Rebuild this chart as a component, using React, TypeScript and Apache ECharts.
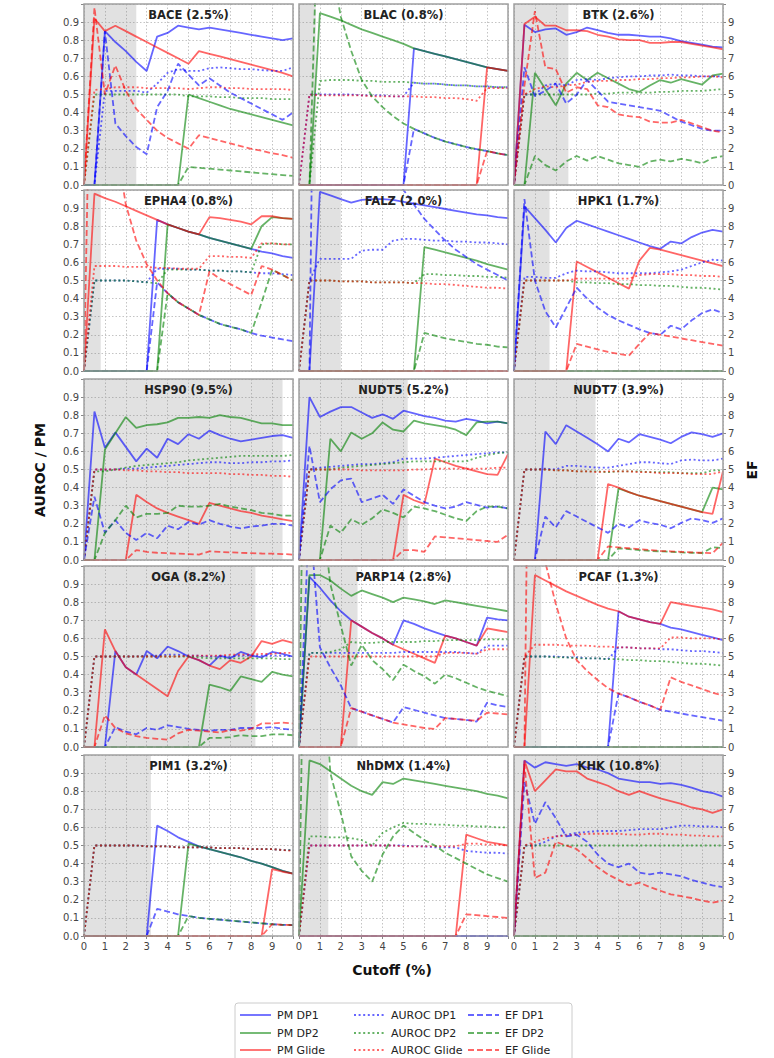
import React, { useEffect, useRef } from "react";
import * as echarts from "echarts";

// ---------------- data ----------------
const CUTOFFS = [0, 0.5, 1, 1.5, 2, 2.5, 3, 3.5, 4, 4.5, 5, 5.5, 6, 6.5, 7, 7.5, 8, 8.5, 9, 9.5, 10];
const TARGETS = ["BACE", "BLAC", "BTK", "EPHA4", "FALZ", "HPK1", "HSP90", "NUDT5", "NUDT7", "OGA", "PARP14", "PCAF", "PIM1", "NhDMX", "KHK"];
const ACTIVE_RATIO = [2.5, 0.8, 2.6, 0.8, 2.0, 1.7, 9.5, 5.2, 3.9, 8.2, 2.8, 1.3, 3.2, 1.4, 10.8];
const METHODS = ["DP1", "DP2", "Glide"];

// each: [DP1, DP2, Glide]
const BACE_PM = [
  [0, 0, 0.85, 0.79, 0.74, 0.68, 0.63, 0.82, 0.84, 0.88, 0.87, 0.86, 0.87, 0.86, 0.85, 0.84, 0.83, 0.82, 0.81, 0.80, 0.81],
  [0, 0, 0, 0, 0, 0, 0, 0, 0, 0, 0.50, 0.48, 0.46, 0.44, 0.42, 0.405, 0.39, 0.375, 0.36, 0.345, 0.33],
  [0, 0.92, 0.85, 0.88, 0.85, 0.82, 0.79, 0.76, 0.73, 0.70, 0.67, 0.74, 0.725, 0.71, 0.695, 0.68, 0.665, 0.65, 0.635, 0.62, 0.60],
];
const BACE_AUROC = [
  [0, 0, 0.52, 0.52, 0.52, 0.52, 0.51, 0.56, 0.62, 0.64, 0.63, 0.63, 0.645, 0.65, 0.645, 0.64, 0.64, 0.635, 0.63, 0.63, 0.65],
  [0, 0.5, 0.5, 0.5, 0.5, 0.5, 0.5, 0.5, 0.5, 0.5, 0.49, 0.49, 0.49, 0.485, 0.485, 0.48, 0.48, 0.48, 0.475, 0.475, 0.475],
  [0, 0.525, 0.53, 0.54, 0.54, 0.54, 0.535, 0.535, 0.535, 0.535, 0.53, 0.535, 0.54, 0.54, 0.535, 0.535, 0.53, 0.53, 0.53, 0.53, 0.525],
];
const BACE_EF = [
  [0, 0, 8.5, 3.4, 2.7, 2.1, 1.7, 4.3, 5.2, 6.7, 6.1, 5.5, 5.9, 5.5, 5.1, 4.8, 4.5, 4.2, 3.9, 3.6, 4.0],
  [0, 0, 0, 0, 0, 0, 0, 0, 0, 0, 1.0, 0.95, 0.9, 0.85, 0.8, 0.75, 0.7, 0.65, 0.6, 0.55, 0.5],
  [0, 9.8, 5.0, 6.6, 5.2, 4.2, 3.6, 3.0, 2.6, 2.3, 2.0, 2.75, 2.6, 2.45, 2.3, 2.15, 2.0, 1.9, 1.75, 1.65, 1.5],
];

const BLAC_PM = [
  [0, 0, 0, 0, 0, 0, 0, 0, 0, 0, 0, 0.755, 0.74, 0.725, 0.71, 0.695, 0.68, 0.665, 0.65, 0.64, 0.63],
  [0, 0, 0.95, 0.93, 0.91, 0.885, 0.86, 0.84, 0.82, 0.80, 0.78, 0.755, 0.74, 0.725, 0.71, 0.695, 0.68, 0.665, 0.65, 0.64, 0.63],
  [0, 0, 0, 0, 0, 0, 0, 0, 0, 0, 0, 0, 0, 0, 0, 0, 0, 0, 0.65, 0.64, 0.63],
];
const BLAC_AUROC = [
  [0, 0.5, 0.5, 0.5, 0.5, 0.5, 0.495, 0.495, 0.495, 0.49, 0.49, 0.565, 0.56, 0.56, 0.555, 0.55, 0.55, 0.545, 0.545, 0.54, 0.54],
  [0, 0, 0.575, 0.58, 0.58, 0.58, 0.575, 0.575, 0.57, 0.57, 0.57, 0.565, 0.56, 0.56, 0.555, 0.55, 0.55, 0.545, 0.545, 0.54, 0.54],
  [0, 0.5, 0.495, 0.495, 0.495, 0.495, 0.495, 0.49, 0.49, 0.49, 0.49, 0.49, 0.485, 0.485, 0.48, 0.48, 0.475, 0.465, 0.535, 0.535, 0.535],
];
const BLAC_EF = [
  [0, 0, 0, 0, 0, 0, 0, 0, 0, 0, 0, 3.1, 2.85, 2.6, 2.4, 2.25, 2.1, 1.98, 1.87, 1.75, 1.65],
  [0, 0, 19, 12.5, 9.3, 7.4, 5.8, 4.9, 4.3, 3.8, 3.4, 3.1, 2.85, 2.6, 2.4, 2.25, 2.1, 1.98, 1.87, 1.75, 1.65],
  [0, 0, 0, 0, 0, 0, 0, 0, 0, 0, 0, 0, 0, 0, 0, 0, 0, 0, 1.87, 1.75, 1.65],
];

const BTK_PM = [
  [0, 0.885, 0.845, 0.86, 0.865, 0.83, 0.845, 0.87, 0.855, 0.84, 0.83, 0.83, 0.825, 0.82, 0.82, 0.81, 0.795, 0.785, 0.775, 0.765, 0.76],
  [0, 0, 0.62, 0.53, 0.44, 0.56, 0.62, 0.58, 0.62, 0.59, 0.56, 0.53, 0.515, 0.55, 0.58, 0.565, 0.585, 0.57, 0.555, 0.605, 0.615],
  [0, 0.89, 0.93, 0.88, 0.88, 0.855, 0.855, 0.85, 0.83, 0.82, 0.805, 0.80, 0.80, 0.785, 0.785, 0.79, 0.79, 0.78, 0.77, 0.76, 0.75],
];
const BTK_AUROC = [
  [0, 0.5, 0.5, 0.55, 0.56, 0.55, 0.58, 0.585, 0.58, 0.59, 0.595, 0.60, 0.60, 0.605, 0.605, 0.61, 0.605, 0.605, 0.60, 0.60, 0.60],
  [0, 0.5, 0.5, 0.5, 0.5, 0.5, 0.5, 0.5, 0.505, 0.505, 0.51, 0.51, 0.51, 0.51, 0.515, 0.515, 0.52, 0.52, 0.52, 0.525, 0.53],
  [0, 0.5, 0.53, 0.545, 0.54, 0.55, 0.555, 0.57, 0.575, 0.575, 0.58, 0.58, 0.585, 0.585, 0.59, 0.59, 0.595, 0.595, 0.60, 0.60, 0.595],
];
const BTK_EF = [
  [0, 6.5, 4.9, 5.2, 5.6, 4.5, 5.0, 5.8, 5.2, 4.6, 4.5, 4.4, 4.3, 4.2, 4.1, 3.8, 3.5, 3.3, 3.1, 3.0, 3.0],
  [0, 0, 1.6, 1.1, 0.8, 1.3, 1.6, 1.35, 1.6, 1.4, 1.2, 1.1, 1.0, 1.3, 1.4, 1.3, 1.45, 1.35, 1.2, 1.5, 1.6],
  [0, 5.5, 9.6, 6.5, 6.4, 5.1, 5.4, 5.3, 4.4, 4.3, 3.9, 3.8, 3.75, 3.5, 3.45, 3.45, 3.6, 3.4, 3.2, 3.0, 2.9],
];

const EPHA4_PM = [
  [0, 0, 0, 0, 0, 0, 0, 0.835, 0.81, 0.79, 0.77, 0.755, 0.735, 0.72, 0.705, 0.69, 0.675, 0.66, 0.65, 0.635, 0.625],
  [0, 0, 0, 0, 0, 0, 0, 0, 0.81, 0.79, 0.77, 0.755, 0.735, 0.72, 0.705, 0.69, 0.675, 0.80, 0.85, 0.845, 0.84],
  [0, 0.98, 0.955, 0.935, 0.91, 0.885, 0.86, 0.835, 0.81, 0.79, 0.77, 0.755, 0.85, 0.845, 0.835, 0.825, 0.81, 0.855, 0.855, 0.845, 0.84],
];
const EPHA4_AUROC = [
  [0, 0.5, 0.5, 0.5, 0.5, 0.495, 0.49, 0.565, 0.565, 0.565, 0.56, 0.56, 0.555, 0.555, 0.55, 0.55, 0.545, 0.54, 0.54, 0.535, 0.53],
  [0, 0.5, 0.5, 0.5, 0.5, 0.495, 0.49, 0.485, 0.56, 0.56, 0.56, 0.56, 0.555, 0.555, 0.55, 0.55, 0.545, 0.70, 0.705, 0.70, 0.70],
  [0, 0.58, 0.58, 0.58, 0.575, 0.575, 0.575, 0.57, 0.57, 0.565, 0.565, 0.565, 0.635, 0.635, 0.63, 0.63, 0.625, 0.705, 0.705, 0.70, 0.70],
];
const EPHA4_EF = [
  [0, 0, 0, 0, 0, 0, 0, 4.9, 4.3, 3.8, 3.45, 3.1, 2.85, 2.6, 2.45, 2.3, 2.1, 1.95, 1.85, 1.75, 1.65],
  [0, 0, 0, 0, 0, 0, 0, 0, 4.3, 3.8, 3.45, 3.1, 2.85, 2.6, 2.45, 2.3, 2.1, 3.8, 5.6, 5.3, 5.0],
  [0, 30, 19, 12.8, 9.2, 7.2, 5.9, 5.0, 4.3, 3.8, 3.45, 3.1, 5.5, 5.1, 4.8, 4.5, 4.2, 5.8, 5.6, 5.3, 5.0],
];

const FALZ_PM = [
  [0, 0, 0.99, 0.97, 0.95, 0.93, 0.945, 0.95, 0.95, 0.945, 0.935, 0.925, 0.915, 0.905, 0.895, 0.885, 0.875, 0.865, 0.86, 0.85, 0.845],
  [0, 0, 0, 0, 0, 0, 0, 0, 0, 0, 0, 0, 0.685, 0.67, 0.655, 0.64, 0.625, 0.61, 0.59, 0.575, 0.56],
  [0, 0, 0, 0, 0, 0, 0, 0, 0, 0, 0, 0, 0, 0, 0, 0, 0, 0, 0, 0, 0],
];
const FALZ_AUROC = [
  [0, 0.5, 0.62, 0.62, 0.62, 0.62, 0.665, 0.67, 0.67, 0.72, 0.73, 0.73, 0.725, 0.72, 0.72, 0.715, 0.715, 0.71, 0.71, 0.705, 0.70],
  [0, 0.5, 0.5, 0.5, 0.495, 0.495, 0.495, 0.49, 0.49, 0.49, 0.49, 0.485, 0.535, 0.535, 0.53, 0.53, 0.525, 0.525, 0.52, 0.52, 0.515],
  [0, 0.5, 0.5, 0.5, 0.495, 0.495, 0.495, 0.49, 0.49, 0.49, 0.49, 0.485, 0.485, 0.48, 0.48, 0.475, 0.47, 0.465, 0.46, 0.46, 0.455],
];
const FALZ_EF = [
  [0, 0, 49, 33, 25, 20, 16.5, 14, 12.4, 11, 10, 9.2, 8.4, 7.8, 7.2, 6.7, 6.3, 5.9, 5.6, 5.3, 5.0],
  [0, 0, 0, 0, 0, 0, 0, 0, 0, 0, 0, 0, 2.1, 1.95, 1.8, 1.7, 1.6, 1.5, 1.45, 1.35, 1.3],
  [0, 0, 0, 0, 0, 0, 0, 0, 0, 0, 0, 0, 0, 0, 0, 0, 0, 0, 0, 0, 0],
];

const HPK1_PM = [
  [0, 0.91, 0.845, 0.78, 0.71, 0.79, 0.83, 0.81, 0.79, 0.77, 0.75, 0.73, 0.71, 0.69, 0.675, 0.715, 0.705, 0.74, 0.765, 0.78, 0.77],
  [0, 0, 0, 0, 0, 0, 0, 0, 0, 0, 0, 0, 0, 0, 0, 0, 0, 0, 0, 0, 0],
  [0, 0, 0, 0, 0, 0, 0.605, 0.575, 0.545, 0.515, 0.485, 0.455, 0.61, 0.68, 0.67, 0.655, 0.64, 0.625, 0.61, 0.595, 0.58],
];
const HPK1_AUROC = [
  [0, 0.52, 0.52, 0.515, 0.515, 0.54, 0.555, 0.55, 0.55, 0.545, 0.54, 0.54, 0.54, 0.54, 0.545, 0.55, 0.56, 0.58, 0.60, 0.615, 0.61],
  [0, 0.5, 0.5, 0.5, 0.5, 0.5, 0.49, 0.49, 0.485, 0.485, 0.48, 0.48, 0.475, 0.475, 0.47, 0.47, 0.465, 0.46, 0.46, 0.455, 0.45],
  [0, 0.5, 0.5, 0.5, 0.5, 0.5, 0.51, 0.51, 0.51, 0.51, 0.51, 0.51, 0.53, 0.535, 0.535, 0.535, 0.53, 0.53, 0.525, 0.525, 0.52],
];
const HPK1_EF = [
  [0, 9.5, 5.0, 3.3, 2.4, 3.5, 4.6, 4.0, 3.5, 3.1, 2.8, 2.55, 2.3, 2.1, 2.0, 2.5, 2.3, 2.8, 3.2, 3.4, 3.2],
  [0, 0, 0, 0, 0, 0, 0, 0, 0, 0, 0, 0, 0, 0, 0, 0, 0, 0, 0, 0, 0],
  [0, 0, 0, 0, 0, 0, 1.5, 1.35, 1.2, 1.05, 0.95, 0.85, 1.5, 2.1, 2.0, 1.9, 1.8, 1.7, 1.6, 1.5, 1.4],
];

const HSP90_PM = [
  [0, 0.82, 0.62, 0.705, 0.625, 0.545, 0.615, 0.565, 0.67, 0.64, 0.695, 0.67, 0.715, 0.69, 0.67, 0.655, 0.665, 0.675, 0.685, 0.69, 0.675],
  [0, 0, 0.61, 0.70, 0.79, 0.73, 0.745, 0.75, 0.76, 0.785, 0.785, 0.79, 0.785, 0.80, 0.79, 0.785, 0.77, 0.755, 0.755, 0.745, 0.745],
  [0, 0, 0, 0, 0, 0.36, 0.32, 0.285, 0.26, 0.24, 0.22, 0.20, 0.315, 0.30, 0.285, 0.27, 0.26, 0.245, 0.235, 0.225, 0.215],
];
const HSP90_AUROC = [
  [0, 0.5, 0.5, 0.5, 0.505, 0.505, 0.51, 0.515, 0.52, 0.525, 0.53, 0.535, 0.54, 0.54, 0.535, 0.535, 0.54, 0.54, 0.545, 0.545, 0.55],
  [0, 0.49, 0.49, 0.5, 0.51, 0.52, 0.525, 0.53, 0.535, 0.54, 0.55, 0.555, 0.56, 0.565, 0.57, 0.575, 0.575, 0.575, 0.575, 0.575, 0.58],
  [0, 0.5, 0.5, 0.5, 0.495, 0.495, 0.49, 0.49, 0.485, 0.485, 0.48, 0.48, 0.48, 0.48, 0.475, 0.475, 0.47, 0.47, 0.465, 0.465, 0.46],
];
const HSP90_EF = [
  [0, 3.5, 1.5, 2.2, 1.5, 1.1, 1.5, 1.2, 1.9, 1.7, 2.1, 1.95, 2.2, 2.0, 1.85, 1.75, 1.85, 1.9, 2.0, 2.0, 1.9],
  [0, 0, 1.5, 2.2, 3.0, 2.35, 2.55, 2.55, 2.6, 3.0, 2.95, 2.95, 3.0, 3.1, 2.95, 2.85, 2.75, 2.6, 2.55, 2.45, 2.45],
  [0, 0, 0, 0, 0, 0.55, 0.45, 0.4, 0.38, 0.35, 0.33, 0.3, 0.48, 0.45, 0.42, 0.4, 0.38, 0.36, 0.35, 0.33, 0.3],
];

const NUDT5_PM = [
  [0, 0.90, 0.79, 0.82, 0.845, 0.845, 0.815, 0.785, 0.805, 0.78, 0.825, 0.81, 0.795, 0.785, 0.77, 0.765, 0.78, 0.77, 0.755, 0.765, 0.755],
  [0, 0, 0, 0.67, 0.60, 0.705, 0.67, 0.70, 0.76, 0.72, 0.71, 0.77, 0.755, 0.745, 0.735, 0.72, 0.69, 0.76, 0.765, 0.765, 0.755],
  [0, 0, 0, 0, 0, 0, 0, 0, 0, 0, 0.36, 0.33, 0.31, 0.56, 0.54, 0.52, 0.505, 0.49, 0.475, 0.47, 0.585],
];
const NUDT5_AUROC = [
  [0, 0.5, 0.51, 0.515, 0.52, 0.525, 0.53, 0.53, 0.535, 0.54, 0.56, 0.56, 0.56, 0.565, 0.57, 0.575, 0.58, 0.585, 0.59, 0.595, 0.595],
  [0, 0.5, 0.5, 0.5, 0.51, 0.515, 0.52, 0.525, 0.53, 0.535, 0.54, 0.545, 0.545, 0.545, 0.545, 0.545, 0.545, 0.565, 0.58, 0.59, 0.595],
  [0, 0.5, 0.5, 0.5, 0.5, 0.5, 0.495, 0.495, 0.495, 0.495, 0.495, 0.5, 0.5, 0.505, 0.505, 0.505, 0.505, 0.505, 0.505, 0.51, 0.51],
];
const NUDT5_EF = [
  [0, 6.3, 3.2, 3.9, 4.4, 4.5, 3.2, 3.4, 3.6, 3.1, 3.9, 3.55, 3.2, 3.0, 2.85, 2.95, 3.2, 3.05, 2.9, 2.95, 2.85],
  [0, 0, 0, 1.9, 1.5, 2.25, 1.95, 2.3, 2.8, 2.6, 2.35, 2.95, 2.85, 2.7, 2.5, 2.3, 2.15, 2.7, 2.95, 2.95, 2.85],
  [0, 0, 0, 0, 0, 0, 0, 0, 0, 0, 0.55, 0.55, 0.45, 1.3, 1.25, 1.2, 1.15, 1.1, 1.05, 1.0, 1.4],
];

const NUDT7_PM = [
  [0, 0, 0, 0.71, 0.64, 0.745, 0.71, 0.675, 0.64, 0.60, 0.67, 0.65, 0.695, 0.68, 0.665, 0.645, 0.68, 0.705, 0.695, 0.68, 0.70],
  [0, 0, 0, 0, 0, 0, 0, 0, 0, 0, 0.395, 0.375, 0.355, 0.34, 0.325, 0.31, 0.295, 0.28, 0.265, 0.40, 0.39],
  [0, 0, 0, 0, 0, 0, 0, 0, 0, 0.42, 0.40, 0.375, 0.355, 0.34, 0.325, 0.31, 0.295, 0.28, 0.265, 0.255, 0.49],
];
const NUDT7_AUROC = [
  [0, 0.5, 0.5, 0.505, 0.50, 0.52, 0.52, 0.515, 0.51, 0.51, 0.52, 0.53, 0.54, 0.54, 0.535, 0.53, 0.55, 0.555, 0.55, 0.55, 0.56],
  [0, 0.5, 0.5, 0.5, 0.495, 0.495, 0.49, 0.49, 0.49, 0.485, 0.49, 0.49, 0.49, 0.485, 0.485, 0.485, 0.48, 0.48, 0.48, 0.495, 0.495],
  [0, 0.5, 0.5, 0.5, 0.495, 0.495, 0.49, 0.49, 0.485, 0.49, 0.49, 0.49, 0.485, 0.485, 0.48, 0.48, 0.48, 0.475, 0.475, 0.475, 0.49],
];
const NUDT7_EF = [
  [0, 0, 0, 2.4, 1.8, 2.7, 2.4, 2.1, 1.8, 1.5, 2.0, 1.8, 2.2, 2.05, 1.95, 1.75, 2.05, 2.3, 2.2, 2.05, 2.3],
  [0, 0, 0, 0, 0, 0, 0, 0, 0, 0, 0.65, 0.6, 0.55, 0.5, 0.48, 0.45, 0.42, 0.4, 0.38, 0.7, 0.65],
  [0, 0, 0, 0, 0, 0, 0, 0, 0, 0.75, 0.7, 0.65, 0.6, 0.55, 0.5, 0.48, 0.45, 0.42, 0.4, 0.38, 0.95],
];

const OGA_PM = [
  [0, 0, 0, 0.53, 0.44, 0.40, 0.53, 0.49, 0.555, 0.53, 0.50, 0.48, 0.45, 0.505, 0.49, 0.525, 0.505, 0.495, 0.525, 0.515, 0.50],
  [0, 0, 0, 0, 0, 0, 0, 0, 0, 0, 0, 0, 0.345, 0.33, 0.31, 0.39, 0.375, 0.36, 0.415, 0.40, 0.39],
  [0, 0, 0.65, 0.53, 0.44, 0.40, 0.36, 0.32, 0.28, 0.42, 0.50, 0.48, 0.45, 0.43, 0.48, 0.465, 0.50, 0.585, 0.57, 0.59, 0.575],
];
const OGA_AUROC = [
  [0, 0.5, 0.5, 0.5, 0.5, 0.5, 0.505, 0.505, 0.51, 0.51, 0.505, 0.505, 0.5, 0.5, 0.5, 0.505, 0.505, 0.505, 0.505, 0.505, 0.5],
  [0, 0.5, 0.5, 0.5, 0.5, 0.5, 0.5, 0.5, 0.5, 0.5, 0.5, 0.495, 0.49, 0.49, 0.49, 0.49, 0.49, 0.49, 0.49, 0.485, 0.485],
  [0, 0.5, 0.5, 0.5, 0.5, 0.5, 0.5, 0.5, 0.5, 0.5, 0.505, 0.505, 0.505, 0.505, 0.51, 0.51, 0.51, 0.515, 0.515, 0.52, 0.52],
];
const OGA_EF = [
  [0, 0, 0, 1.1, 0.85, 0.7, 1.05, 0.95, 1.2, 1.1, 1.0, 0.95, 0.9, 0.95, 0.95, 1.05, 1.05, 1.05, 1.1, 1.0, 0.95],
  [0, 0, 0, 0, 0, 0, 0, 0, 0, 0, 0, 0, 0.5, 0.5, 0.55, 0.65, 0.6, 0.6, 0.7, 0.7, 0.65],
  [0, 0, 1.75, 1.05, 0.75, 0.6, 0.5, 0.45, 0.4, 0.75, 0.95, 0.9, 0.85, 0.8, 0.95, 0.9, 1.0, 1.3, 1.3, 1.35, 1.3],
];

const PARP14_PM = [
  [0, 0.94, 0.88, 0.81, 0.75, 0.70, 0.665, 0.63, 0.60, 0.565, 0.70, 0.68, 0.655, 0.635, 0.615, 0.60, 0.58, 0.56, 0.715, 0.705, 0.70],
  [0, 0.95, 0.95, 0.92, 0.875, 0.835, 0.865, 0.845, 0.825, 0.80, 0.825, 0.815, 0.805, 0.79, 0.81, 0.80, 0.79, 0.78, 0.77, 0.76, 0.75],
  [0, 0, 0, 0, 0, 0.70, 0.665, 0.63, 0.60, 0.565, 0.54, 0.515, 0.49, 0.465, 0.615, 0.60, 0.58, 0.56, 0.655, 0.645, 0.635],
];
const PARP14_AUROC = [
  [0, 0.52, 0.52, 0.52, 0.52, 0.52, 0.52, 0.52, 0.52, 0.52, 0.525, 0.525, 0.525, 0.525, 0.525, 0.525, 0.52, 0.515, 0.56, 0.56, 0.56],
  [0, 0.52, 0.52, 0.525, 0.54, 0.58, 0.575, 0.575, 0.58, 0.58, 0.58, 0.58, 0.585, 0.585, 0.59, 0.59, 0.59, 0.59, 0.595, 0.595, 0.595],
  [0, 0.5, 0.5, 0.5, 0.5, 0.5, 0.5, 0.5, 0.5, 0.5, 0.5, 0.5, 0.5, 0.5, 0.52, 0.52, 0.52, 0.515, 0.54, 0.54, 0.54],
];
const PARP14_EF = [
  [0, 13, 5.5, 4.4, 3.4, 2.15, 1.95, 1.75, 1.55, 1.35, 2.2, 2.05, 1.9, 1.75, 1.6, 1.55, 1.5, 1.4, 2.45, 2.3, 2.2],
  [0, 40, 14, 9.0, 6.7, 4.5, 5.65, 4.8, 4.3, 3.7, 4.55, 4.2, 3.9, 3.5, 4.0, 3.8, 3.55, 3.3, 3.1, 2.95, 2.8],
  [0, 0, 0, 0, 0, 2.15, 1.95, 1.75, 1.55, 1.35, 1.25, 1.15, 1.05, 1.0, 1.6, 1.55, 1.5, 1.45, 1.9, 1.85, 1.8],
];

const PCAF_PM = [
  [0, 0, 0, 0, 0, 0, 0, 0, 0, 0, 0.75, 0.72, 0.705, 0.69, 0.68, 0.66, 0.65, 0.635, 0.62, 0.605, 0.59],
  [0, 0, 0, 0, 0, 0, 0, 0, 0, 0, 0, 0, 0, 0, 0, 0, 0, 0, 0, 0, 0],
  [0, 0, 0.95, 0.92, 0.89, 0.86, 0.835, 0.81, 0.785, 0.765, 0.75, 0.72, 0.705, 0.69, 0.68, 0.80, 0.79, 0.78, 0.77, 0.76, 0.745],
];
const PCAF_AUROC = [
  [0, 0.5, 0.5, 0.5, 0.5, 0.495, 0.495, 0.49, 0.49, 0.485, 0.55, 0.55, 0.545, 0.545, 0.54, 0.54, 0.535, 0.53, 0.53, 0.525, 0.52],
  [0, 0.5, 0.5, 0.5, 0.495, 0.495, 0.49, 0.49, 0.49, 0.485, 0.485, 0.48, 0.48, 0.475, 0.475, 0.47, 0.465, 0.46, 0.46, 0.455, 0.45],
  [0, 0.5, 0.565, 0.565, 0.565, 0.56, 0.56, 0.56, 0.555, 0.555, 0.55, 0.55, 0.545, 0.545, 0.545, 0.605, 0.605, 0.60, 0.60, 0.60, 0.595],
];
const PCAF_EF = [
  [0, 0, 0, 0, 0, 0, 0, 0, 0, 0, 2.95, 2.75, 2.5, 2.3, 2.05, 1.95, 1.85, 1.75, 1.65, 1.55, 1.45],
  [0, 0, 0, 0, 0, 0, 0, 0, 0, 0, 0, 0, 0, 0, 0, 0, 0, 0, 0, 0, 0],
  [0, 0, 50, 10.2, 7.9, 6.0, 4.8, 4.2, 3.7, 3.25, 2.95, 2.75, 2.5, 2.3, 2.05, 3.85, 3.6, 3.4, 3.2, 3.0, 2.85],
];

const PIM1_PM = [
  [0, 0, 0, 0, 0, 0, 0, 0.61, 0.58, 0.545, 0.52, 0.495, 0.48, 0.465, 0.45, 0.435, 0.415, 0.40, 0.38, 0.36, 0.345],
  [0, 0, 0, 0, 0, 0, 0, 0, 0, 0, 0.51, 0.495, 0.48, 0.465, 0.45, 0.435, 0.415, 0.40, 0.38, 0.36, 0.345],
  [0, 0, 0, 0, 0, 0, 0, 0, 0, 0, 0, 0, 0, 0, 0, 0, 0, 0, 0.37, 0.355, 0.345],
];
const PIM1_AUROC = [
  [0, 0.5, 0.5, 0.5, 0.5, 0.5, 0.495, 0.495, 0.495, 0.49, 0.49, 0.49, 0.49, 0.485, 0.485, 0.485, 0.48, 0.48, 0.48, 0.475, 0.475],
  [0, 0.5, 0.5, 0.5, 0.5, 0.5, 0.495, 0.495, 0.495, 0.49, 0.49, 0.49, 0.49, 0.485, 0.485, 0.485, 0.48, 0.48, 0.48, 0.475, 0.475],
  [0, 0.5, 0.5, 0.5, 0.5, 0.5, 0.495, 0.495, 0.495, 0.49, 0.49, 0.49, 0.49, 0.485, 0.485, 0.485, 0.48, 0.48, 0.48, 0.475, 0.47],
];
const PIM1_EF = [
  [0, 0, 0, 0, 0, 0, 0, 1.5, 1.35, 1.2, 1.1, 1.0, 0.95, 0.9, 0.85, 0.8, 0.75, 0.7, 0.65, 0.62, 0.6],
  [0, 0, 0, 0, 0, 0, 0, 0, 0, 0, 1.1, 1.0, 0.95, 0.9, 0.85, 0.8, 0.75, 0.7, 0.65, 0.62, 0.6],
  [0, 0, 0, 0, 0, 0, 0, 0, 0, 0, 0, 0, 0, 0, 0, 0, 0, 0, 0.65, 0.62, 0.6],
];

const NHDMX_PM = [
  [0, 0, 0, 0, 0, 0, 0, 0, 0, 0, 0, 0, 0, 0, 0, 0, 0, 0, 0, 0, 0],
  [0, 0.97, 0.95, 0.91, 0.87, 0.83, 0.80, 0.78, 0.85, 0.84, 0.87, 0.86, 0.85, 0.84, 0.83, 0.82, 0.81, 0.80, 0.785, 0.775, 0.76],
  [0, 0, 0, 0, 0, 0, 0, 0, 0, 0, 0, 0, 0, 0, 0, 0, 0.56, 0.54, 0.52, 0.51, 0.50],
];
const NHDMX_AUROC = [
  [0, 0.5, 0.5, 0.5, 0.5, 0.5, 0.5, 0.5, 0.5, 0.5, 0.5, 0.495, 0.495, 0.49, 0.49, 0.49, 0.47, 0.465, 0.46, 0.46, 0.455],
  [0, 0.55, 0.55, 0.545, 0.545, 0.54, 0.53, 0.50, 0.57, 0.60, 0.625, 0.62, 0.62, 0.615, 0.615, 0.61, 0.61, 0.605, 0.605, 0.60, 0.60],
  [0, 0.5, 0.5, 0.5, 0.5, 0.5, 0.5, 0.5, 0.5, 0.5, 0.495, 0.495, 0.495, 0.495, 0.495, 0.495, 0.51, 0.51, 0.505, 0.505, 0.50],
];
const NHDMX_EF = [
  [0, 0, 0, 0, 0, 0, 0, 0, 0, 0, 0, 0, 0, 0, 0, 0, 0, 0, 0, 0, 0],
  [0, 40, 18, 9.0, 6.8, 4.4, 3.6, 3.0, 4.5, 5.5, 6.1, 5.7, 5.3, 5.0, 4.6, 4.3, 4.0, 3.7, 3.4, 3.2, 3.0],
  [0, 0, 0, 0, 0, 0, 0, 0, 0, 0, 0, 0, 0, 0, 0, 0, 1.2, 1.15, 1.1, 1.05, 1.0],
];

const KHK_PM = [
  [0, 0.97, 0.93, 0.96, 0.95, 0.94, 0.95, 0.93, 0.92, 0.90, 0.87, 0.86, 0.85, 0.85, 0.84, 0.845, 0.835, 0.82, 0.80, 0.79, 0.77],
  [0, 0, 0, 0, 0, 0, 0, 0, 0, 0, 0, 0, 0, 0, 0, 0, 0, 0, 0, 0, 0],
  [0, 0.97, 0.80, 0.86, 0.92, 0.91, 0.91, 0.87, 0.85, 0.83, 0.80, 0.78, 0.80, 0.78, 0.76, 0.745, 0.73, 0.71, 0.70, 0.68, 0.70],
];
const KHK_AUROC = [
  [0, 0.5, 0.5, 0.52, 0.55, 0.56, 0.57, 0.575, 0.58, 0.58, 0.58, 0.585, 0.59, 0.59, 0.59, 0.60, 0.61, 0.61, 0.605, 0.605, 0.60],
  [0, 0.5, 0.5, 0.5, 0.5, 0.5, 0.5, 0.5, 0.5, 0.5, 0.5, 0.5, 0.5, 0.5, 0.5, 0.5, 0.5, 0.5, 0.5, 0.5, 0.5],
  [0, 0.5, 0.52, 0.54, 0.55, 0.555, 0.56, 0.565, 0.565, 0.565, 0.565, 0.56, 0.56, 0.565, 0.565, 0.56, 0.56, 0.555, 0.555, 0.55, 0.55],
];
const KHK_EF = [
  [0, 8.5, 6.2, 7.4, 6.5, 5.5, 5.6, 5.2, 4.5, 4.0, 3.8, 4.0, 3.5, 3.4, 3.5, 3.4, 3.3, 3.1, 2.95, 2.8, 2.7],
  [0, 0, 0, 0, 0, 0, 0, 0, 0, 0, 0, 0, 0, 0, 0, 0, 0, 0, 0, 0, 0],
  [0, 9.5, 3.2, 3.5, 5.2, 5.0, 4.8, 4.3, 3.8, 3.4, 3.1, 2.8, 2.95, 2.7, 2.5, 2.3, 2.2, 2.1, 1.95, 1.85, 1.95],
];

const PM_DATA = [BACE_PM, BLAC_PM, BTK_PM, EPHA4_PM, FALZ_PM, HPK1_PM, HSP90_PM, NUDT5_PM, NUDT7_PM, OGA_PM, PARP14_PM, PCAF_PM, PIM1_PM, NHDMX_PM, KHK_PM];
const AUROC_DATA = [BACE_AUROC, BLAC_AUROC, BTK_AUROC, EPHA4_AUROC, FALZ_AUROC, HPK1_AUROC, HSP90_AUROC, NUDT5_AUROC, NUDT7_AUROC, OGA_AUROC, PARP14_AUROC, PCAF_AUROC, PIM1_AUROC, NHDMX_AUROC, KHK_AUROC];
const EF_DATA = [BACE_EF, BLAC_EF, BTK_EF, EPHA4_EF, FALZ_EF, HPK1_EF, HSP90_EF, NUDT5_EF, NUDT7_EF, OGA_EF, PARP14_EF, PCAF_EF, PIM1_EF, NHDMX_EF, KHK_EF];

// ---------------- layout / style ----------------
const W = 774;
const H = 1058;
const COL_LEFT = [84, 299, 514];
const ROW_TOP = [4, 190, 379, 566, 755];
const PW = 209;
const PH = 181;
const COLORS = ["#0000ff", "#008000", "#ff0000"];
const FONT = "DejaVu Sans, Verdana, sans-serif";
const DOTTED = [2, 2.6];
const DASHED = [6, 3];
const LW = 1.8;
const OP = 0.6;

function buildOption() {
  const grid: any[] = [];
  const xAxis: any[] = [];
  const yAxis: any[] = [];
  const series: any[] = [];
  const graphic: any[] = [];

  TARGETS.forEach((name, i) => {
    const row = Math.floor(i / 3);
    const col = i % 3;
    const left = COL_LEFT[col];
    const top = ROW_TOP[row];
    grid.push({ left, top, width: PW, height: PH, show: false });

    const gridLine = { show: true, lineStyle: { color: "#c4c4c4", type: [1.5, 2], width: 1 } };
    xAxis.push({
      type: "value", gridIndex: i, min: 0, max: 10, interval: 1,
      axisLine: { show: false },
      axisTick: { show: row === 4, length: 3, lineStyle: { color: "#888" } },
      axisLabel: { show: row === 4, color: "#444", fontSize: 10, fontFamily: FONT, margin: 5,
        formatter: (v: number) => (v >= 10 ? "" : String(v)) },
      splitLine: gridLine,
    });
    yAxis.push({
      type: "value", gridIndex: i, position: "left", min: 0, max: 1, interval: 0.1,
      axisLine: { show: false },
      axisTick: { show: col === 0, length: 3, lineStyle: { color: "#888" } },
      axisLabel: { show: col === 0, color: "#444", fontSize: 10, fontFamily: FONT, margin: 5,
        formatter: (v: number) => (v > 0.99 ? "" : v.toFixed(1)) },
      splitLine: gridLine,
    });
    yAxis.push({
      type: "value", gridIndex: i, position: "right", min: 0, max: 10, interval: 1,
      axisLine: { show: false },
      axisTick: { show: col === 2, length: 3, lineStyle: { color: "#888" } },
      axisLabel: { show: col === 2, color: "#444", fontSize: 10, fontFamily: FONT, margin: 5,
        formatter: (v: number) => (v >= 10 ? "" : String(v)) },
      splitLine: { show: false },
    });

    const groups: [string, number[][], number, any][] = [
      ["PM", PM_DATA[i], 2 * i, "solid"],
      ["AUROC", AUROC_DATA[i], 2 * i, DOTTED],
      ["EF", EF_DATA[i], 2 * i + 1, DASHED],
    ];
    let first = true;
    groups.forEach(([kind, arrs, yIdx, lt]) => {
      arrs.forEach((arr, m) => {
        const s: any = {
          type: "line",
          name: kind + " " + METHODS[m],
          xAxisIndex: i,
          yAxisIndex: yIdx,
          data: CUTOFFS.map((x, k) => [x, arr[k]]),
          symbol: "none",
          silent: true,
          clip: true,
          lineStyle: { color: COLORS[m], width: LW, type: lt, opacity: OP },
          itemStyle: { color: COLORS[m] },
        };
        if (first) {
          s.markArea = {
            silent: true,
            itemStyle: { color: "rgba(120,120,120,0.22)" },
            data: [[{ xAxis: 0 }, { xAxis: Math.min(ACTIVE_RATIO[i], 10) }]],
          };
          first = false;
        }
        series.push(s);
      });
    });

    // frame
    graphic.push({
      type: "rect", silent: true, z: 100,
      shape: { x: left, y: top, width: PW, height: PH },
      style: { fill: "none", stroke: "#a0a0a0", lineWidth: 1.5 },
    });
    // title
    graphic.push({
      type: "text", silent: true, z: 101,
      x: left + PW / 2, y: top + 11,
      style: {
        text: `${name} (${ACTIVE_RATIO[i].toFixed(1)}%)`,
        font: `bold 11.5px ${FONT}`, fill: "#222",
        textAlign: "center", textVerticalAlign: "middle", align: "center", verticalAlign: "middle",
      },
    });
  });

  // axis titles
  graphic.push({
    type: "text", silent: true, x: 40, y: 470, rotation: Math.PI / 2,
    style: { text: "AUROC / PM", font: `bold 14px ${FONT}`, fill: "#111",
      textAlign: "center", textVerticalAlign: "middle", align: "center", verticalAlign: "middle" },
  });
  graphic.push({
    type: "text", silent: true, x: 752, y: 470, rotation: Math.PI / 2,
    style: { text: "EF", font: `bold 14px ${FONT}`, fill: "#111",
      textAlign: "center", textVerticalAlign: "middle", align: "center", verticalAlign: "middle" },
  });
  graphic.push({
    type: "text", silent: true, x: 392, y: 970,
    style: { text: "Cutoff (%)", font: `bold 14px ${FONT}`, fill: "#111",
      textAlign: "center", textVerticalAlign: "middle", align: "center", verticalAlign: "middle" },
  });

  // legend
  graphic.push({
    type: "rect", silent: true, z: 50,
    shape: { x: 235, y: 1003, width: 337, height: 64, r: 3 },
    style: { fill: "#fff", stroke: "#cccccc", lineWidth: 1 },
  });
  const legCols = [
    { kind: "PM", dash: null, lx: 240, tx: 277 },
    { kind: "AUROC", dash: DOTTED, lx: 354, tx: 391 },
    { kind: "EF", dash: DASHED, lx: 468, tx: 505 },
  ];
  const legRows = [1015, 1033, 1050];
  legCols.forEach((c) => {
    METHODS.forEach((m, r) => {
      const y = legRows[r];
      const ls: any = { stroke: COLORS[r], lineWidth: LW, opacity: OP };
      if (c.dash) ls.lineDash = c.dash;
      graphic.push({
        type: "line", silent: true, z: 51,
        shape: { x1: c.lx, y1: y, x2: c.lx + 31, y2: y },
        style: ls,
      });
      graphic.push({
        type: "text", silent: true, z: 51, x: c.tx, y,
        style: { text: `${c.kind} ${m}`, font: `11px ${FONT}`, fill: "#222",
          textAlign: "left", textVerticalAlign: "middle", align: "left", verticalAlign: "middle" },
      });
    });
  });

  return {
    animation: false,
    backgroundColor: "#ffffff",
    grid,
    xAxis,
    yAxis,
    series,
    graphic,
  };
}

export default function App() {
  const ref = useRef<HTMLDivElement>(null);
  useEffect(() => {
    if (!ref.current) return;
    const chart = echarts.init(ref.current, undefined, { renderer: "svg", width: W, height: H });
    chart.setOption(buildOption() as any);
    return () => chart.dispose();
  }, []);
  return (
    <div
      ref={ref}
      style={{ position: "absolute", left: 0, top: 0, width: W, height: H, background: "#fff" }}
    />
  );
}
